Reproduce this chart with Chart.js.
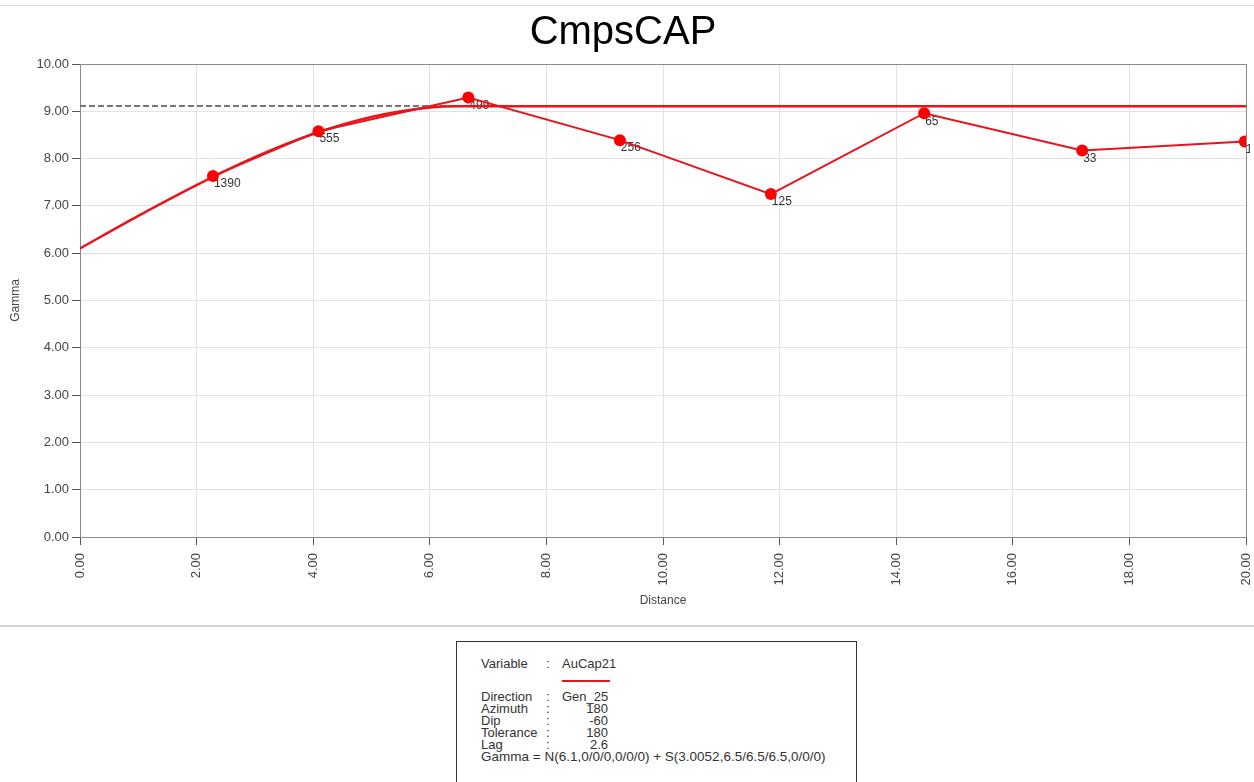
<!DOCTYPE html>
<html>
<head>
<meta charset="utf-8">
<script src="https://cdn.jsdelivr.net/npm/chart.js@4.4.1/dist/chart.umd.min.js"></script>
<style>
  html, body { margin:0; padding:0; width:1254px; height:782px; overflow:hidden; background:#fff; }
  #wrap { position:absolute; left:0; top:0; width:1254px; height:620px; }
  #topline { position:absolute; left:0; top:5px; width:1254px; height:1px; background:#dcdcdc; }
  #sep { position:absolute; left:0; top:625px; width:1254px; height:2px; background:#d4d4d4; }
  #legend { position:absolute; left:456px; top:641px; width:401px; height:150px; border:1px solid #333; box-sizing:border-box;
            font-family:"Liberation Sans", Arial, sans-serif; font-size:13px; color:#333; }
  #legend div { position:absolute; white-space:nowrap; line-height:12px; }
  .k { left:24px; }
  .c { left:89px; }
  .v { left:105px; }
  .n { left:105px; width:46px; text-align:right; }
  #lgline { position:absolute; left:105px; top:38px; width:48px; height:2px; background:#e8141c; }
</style>
</head>
<body>
<div id="topline"></div>
<div id="wrap"><canvas id="c" width="1254" height="620"></canvas></div>
<div id="sep"></div>
<div id="legend">
  <div class="k" style="top:16px">Variable</div><div class="c" style="top:16px">:</div><div class="v" style="top:16px">AuCap21</div>
  <div id="lgline"></div>
  <div class="k" style="top:49px">Direction</div><div class="c" style="top:49px">:</div><div class="v" style="top:49px">Gen_25</div>
  <div class="k" style="top:61px">Azimuth</div><div class="c" style="top:61px">:</div><div class="n" style="top:61px">180</div>
  <div class="k" style="top:73px">Dip</div><div class="c" style="top:73px">:</div><div class="n" style="top:73px">-60</div>
  <div class="k" style="top:85px">Tolerance</div><div class="c" style="top:85px">:</div><div class="n" style="top:85px">180</div>
  <div class="k" style="top:97px">Lag</div><div class="c" style="top:97px">:</div><div class="n" style="top:97px">2.6</div>
  <div class="k" style="top:109px; font-size:13.5px">Gamma = N(6.1,0/0/0,0/0/0) + S(3.0052,6.5/6.5/6.5,0/0/0)</div>
</div>
<script>
const lagDistances = [2.28, 4.09, 6.66, 9.26, 11.85, 14.48, 17.19, 19.98];
const gammaValues  = [7.63, 8.58, 9.29, 8.39, 7.25, 8.96, 8.17, 8.36];
const pairCounts   = ["1390", "555", "499", "256", "125", "65", "33", "17"];
// Model curve
const modelDistances = [0, 1, 2, 3, 4, 5, 6, 6.5, 20];
const modelGamma     = [6.10, 6.79, 7.44, 8.03, 8.52, 8.88, 9.08, 9.105, 9.105];
// Variance line
const varianceDistances = [0, 20];
const varianceGamma     = [9.11, 9.11];
// Axis ticks
const yTicks = [0,1,2,3,4,5,6,7,8,9,10];
const xTicks = [0,2,4,6,8,10,12,14,16,18,20];

const FONT = '"Liberation Sans", Arial, sans-serif';
const zip = (xs, ys) => xs.map((x, i) => ({x, y: ys[i]}));

const framePlugin = {
  id: 'frame',
  beforeDatasetsDraw(chart) {
    const {ctx, chartArea: a} = chart;
    ctx.save();
    ctx.strokeStyle = '#8a8a8a';
    ctx.lineWidth = 1;
    ctx.strokeRect(a.left + 0.5, a.top + 0.5, a.right - a.left, a.bottom - a.top);
    ctx.restore();
  }
};

const labelPlugin = {
  id: 'pairLabels',
  beforeDatasetsDraw(chart) {
    const {ctx, chartArea: a} = chart;
    const meta = chart.getDatasetMeta(0);
    ctx.save();
    ctx.beginPath();
    ctx.rect(a.left, a.top, a.right - a.left + 4, a.bottom - a.top);
    ctx.clip();
    ctx.font = '12px ' + FONT;
    ctx.fillStyle = '#333';
    ctx.textBaseline = 'top';
    ctx.textAlign = 'left';
    meta.data.forEach((pt, i) => {
      ctx.fillText(pairCounts[i], pt.x + 1, pt.y + 2);
    });
    ctx.restore();
  }
};

new Chart(document.getElementById('c'), {
  type: 'scatter',
  data: {
    datasets: [
      {
        label: 'AuCap21',
        data: zip(lagDistances, gammaValues),
        showLine: true,
        borderColor: '#e8141c',
        borderWidth: 2,
        pointRadius: 6,
        pointBackgroundColor: '#ff0000',
        pointBorderColor: '#ff0000',
        pointBorderWidth: 0,
        order: 1
      },
      {
        label: 'model',
        data: zip(modelDistances, modelGamma),
        showLine: true,
        borderColor: '#e8141c',
        borderWidth: 2.5,
        pointRadius: 0,
        tension: 0.3,
        cubicInterpolationMode: 'monotone',
        order: 2
      },
      {
        label: 'variance',
        data: zip(varianceDistances, varianceGamma),
        showLine: true,
        borderColor: '#777',
        borderWidth: 2,
        borderDash: [6, 3],
        pointRadius: 0,
        order: 3
      }
    ]
  },
  options: {
    responsive: false,
    animation: false,
    layout: { padding: { left: 0, right: 8, top: 0, bottom: 0 } },
    plugins: {
      legend: { display: false },
      tooltip: { enabled: false },
      title: {
        display: true,
        text: 'CmpsCAP',
        color: '#000',
        font: { size: 40, family: FONT, weight: 'normal' },
        padding: { top: 9, bottom: 7 }
      }
    },
    scales: {
      x: {
        type: 'linear',
        min: 0, max: 20,
        afterFit(s) { s.height = 83; s.paddingLeft = 0; s.paddingRight = 0; },
        afterBuildTicks(s) { s.ticks = xTicks.map(v => ({value: v})); },
        ticks: {
          callback: v => Number(v).toFixed(2),
          minRotation: 90, maxRotation: 90,
          padding: 8,
          color: '#444',
          font: { size: 13, family: FONT }
        },
        grid: { color: '#e2e2e2', tickColor: '#555', tickLength: 8 },
        border: { color: '#777' },
        title: {
          display: true, text: 'Distance', color: '#444',
          font: { size: 12, family: FONT },
          padding: { top: 0, bottom: 12 }
        }
      },
      y: {
        type: 'linear',
        min: 0, max: 10,
        afterFit(s) { s.width = 80; },
        afterBuildTicks(s) { s.ticks = yTicks.map(v => ({value: v})); },
        ticks: {
          callback: v => Number(v).toFixed(2),
          padding: 3,
          color: '#444',
          font: { size: 13, family: FONT }
        },
        grid: { color: '#e2e2e2', tickColor: '#555', tickLength: 8 },
        border: { color: '#777' },
        title: {
          display: true, text: 'Gamma', color: '#444',
          font: { size: 12, family: FONT },
          padding: { top: 8, bottom: 0 }
        }
      }
    }
  },
  plugins: [framePlugin, labelPlugin]
});
</script>
</body>
</html>
